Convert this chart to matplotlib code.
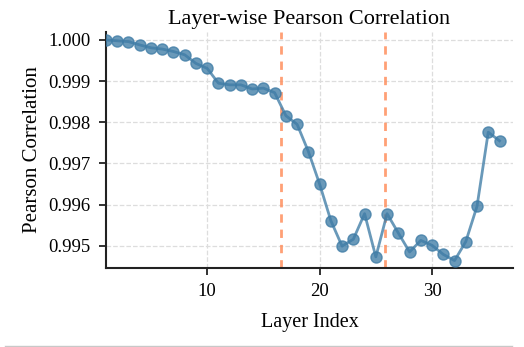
"""
Layer-wise Pearson correlation between two model runs
"""

import matplotlib
matplotlib.use("Agg")
import matplotlib.pyplot as plt
from matplotlib.lines import Line2D

layers = list(range(1, 37))
corr = [
    1.00000, 0.99998, 0.99996, 0.99988, 0.99981, 0.99978, 0.99972, 0.99964,
    0.99943, 0.99931, 0.99895, 0.99891, 0.99891, 0.99881, 0.99883, 0.99872,
    0.99816, 0.99795, 0.99729, 0.99650, 0.99561, 0.99499, 0.99516, 0.99578,
    0.99473, 0.99578, 0.99531, 0.99485, 0.99513, 0.99501, 0.99479, 0.99464,
    0.99510, 0.99596, 0.99776, 0.99755,
]
boundaries = [16.55, 25.8]

plt.rcParams["font.family"] = ["Liberation Serif", "DejaVu Serif"]

fig = plt.figure(figsize=(5.24, 3.47), dpi=100)
ax = fig.add_axes([106 / 524, 1 - 268 / 347, 407 / 524, 236 / 347])

ax.plot(layers, corr, color="#3f7ca6", alpha=0.78, linewidth=2,
        marker="o", markersize=8, zorder=3)
for b in boundaries:
    ax.axvline(b, color="#ff8f5e", alpha=0.85, linestyle=(0, (3, 2.5)),
               linewidth=2, zorder=2)

ax.set_xlim(1, 37.2)
ax.set_ylim(0.99446, 1.000194)
ax.set_xticks([10, 20, 30])
ax.set_yticks([0.995, 0.996, 0.997, 0.998, 0.999, 1.000])
ax.yaxis.set_major_formatter(plt.FormatStrFormatter("%.3f"))

ax.set_title("Layer-wise Pearson Correlation", fontsize=16, pad=6)
ax.set_xlabel("Layer Index", fontsize=14.5, labelpad=9)
ax.set_ylabel("Pearson Correlation", fontsize=15, labelpad=4.5)
ax.tick_params(axis="both", which="major", labelsize=13.5, length=5,
               width=1.3, color="#222222", pad=6)
ax.grid(True, linestyle="--", color="#dddddd", linewidth=0.9)
ax.set_axisbelow(True)

for side in ["top", "right"]:
    ax.spines[side].set_visible(False)
for side in ["left", "bottom"]:
    ax.spines[side].set_linewidth(1.5)
    ax.spines[side].set_color("#222222")

# thin rule along the bottom of the figure
fig.add_artist(Line2D([5 / 524, 512 / 524], [1.5 / 347, 1.5 / 347],
                      transform=fig.transFigure, color="#c8c8c8", linewidth=1))

fig.savefig("out.png", dpi=100)
